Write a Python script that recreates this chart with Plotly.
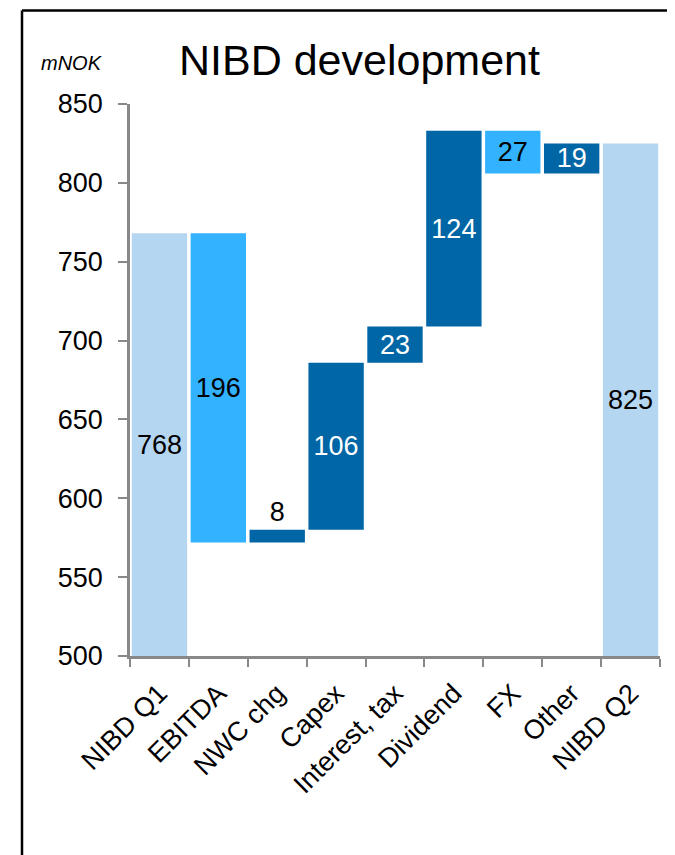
import plotly.graph_objects as go

categories = ["NIBD Q1", "EBITDA", "NWC chg", "Capex", "Interest, tax", "Dividend", "FX", "Other", "NIBD Q2"]
measures = ["absolute", "relative", "relative", "relative", "relative", "relative", "relative", "relative", "total"]
values = [768, -196, 8, 106, 23, 124, -27, 19, 825]
y_ticks = [500, 550, 600, 650, 700, 750, 800, 850]
y_range = [500, 850]

LIGHT = "#b5d6f0"
BRIGHT = "#33b2ff"
DARK = "#0066a6"
FONT = "Liberation Sans, Arial, sans-serif"

# waterfall geometry built from the values
bases, heights, colors, labels, text_colors, positions = [], [], [], [], [], []
running = 0
for m, v in zip(measures, values):
    if m == "relative":
        bases.append(running)
        heights.append(v)
        running += v
        colors.append(DARK if v > 0 else BRIGHT)
        text_colors.append("white" if v > 0 else "black")
    else:
        running = v
        bases.append(y_range[0])
        heights.append(v - y_range[0])
        colors.append(LIGHT)
        text_colors.append("black")
    labels.append(str(abs(v)))
    positions.append("outside" if abs(v) < 10 else "inside")
    if abs(v) < 10:
        text_colors[-1] = "black"

fig = go.Figure(go.Bar(
    x=categories,
    y=heights,
    base=bases,
    marker=dict(color=colors, line=dict(width=0)),
    text=labels,
    textposition=positions,
    insidetextanchor="middle",
    textangle=0,
    constraintext="none",
    cliponaxis=False,
    textfont=dict(family=FONT, size=27, color=text_colors),
    showlegend=False,
    hoverinfo="skip",
))

fig.update_layout(
    width=675, height=855,
    margin=dict(l=122, r=23, t=96, b=207),
    paper_bgcolor="white", plot_bgcolor="white",
    bargap=0.06,
    font=dict(family=FONT, color="black"),
    xaxis=dict(
        type="category", tickson="boundaries", ticks="outside", ticklen=8, tickwidth=2,
        tickcolor="#888888", showline=True, linecolor="#888888", linewidth=2.5,
        tickangle=-45, tickfont=dict(size=27, family=FONT, color="black"),
        ticklabelstandoff=8,
        showgrid=False, zeroline=False,
    ),
    yaxis=dict(
        range=y_range, tickvals=y_ticks, ticks="outside", ticklen=9, tickwidth=2,
        tickcolor="#888888", showline=True, linecolor="#888888", linewidth=2.5,
        tickfont=dict(size=27, family=FONT, color="black"), ticklabelstandoff=10,
        showgrid=False, zeroline=False,
    ),
    annotations=[
        dict(text="NIBD development", xref="paper", yref="paper",
             x=(359 - 130) / 530, y=(656 - 60) / 552, xanchor="center", yanchor="middle",
             showarrow=False, font=dict(size=43, family=FONT, color="black")),
        dict(text="<i>mNOK</i>", xref="paper", yref="paper",
             x=(72 - 130) / 530, y=(656 - 63) / 552, xanchor="center", yanchor="middle",
             showarrow=False, font=dict(size=20, family=FONT, color="black")),
    ],
    shapes=[
        dict(type="line", xref="paper", yref="paper",
             x0=(22 - 130) / 530, x1=(700 - 130) / 530,
             y0=(656 - 10.5) / 552, y1=(656 - 10.5) / 552,
             line=dict(color="black", width=2.5)),
        dict(type="line", xref="paper", yref="paper",
             x0=(22 - 130) / 530, x1=(22 - 130) / 530,
             y0=(656 - 10.5) / 552, y1=(656 - 900) / 552,
             line=dict(color="black", width=2.5)),
    ],
)

fig.write_html("out.html")
